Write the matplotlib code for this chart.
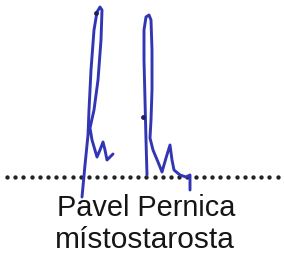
import matplotlib
matplotlib.use('Agg')
import matplotlib.pyplot as plt
import numpy as np

# Signature strokes (pixel coordinates, y grows downward)
stroke1_x = [82, 85, 88, 89, 91, 94, 97, 100, 102, 101, 98, 94, 90, 92, 97, 100, 103, 105, 107, 110, 113]
stroke1_y = [197, 165, 135, 110, 70, 30, 12, 7, 10, 40, 80, 110, 128, 140, 157, 150, 142, 150, 160, 157, 154]

stroke2_x = [147, 146, 145, 144, 144, 146, 149, 151, 152, 152, 151, 150, 153, 158, 162, 166, 170, 172, 174, 180, 186, 190, 190]
stroke2_y = [175, 140, 100, 60, 30, 17, 15, 20, 50, 90, 120, 138, 150, 162, 172, 158, 145, 160, 170, 175, 177, 175, 190]

# small pen marks
marks_x = [96, 143]
marks_y = [13, 117]

# dotted signature line
dots_x = np.arange(7, 284, 8.2)
line_y = 176.5

name = 'Pavel Pernica'
title = 'místostarosta'

ink = '#3236b4'

fig = plt.figure(figsize=(2.84, 2.54), dpi=100)
ax = fig.add_axes([0, 0, 1, 1])
ax.set_xlim(0, 284)
ax.set_ylim(254, 0)
ax.axis('off')

ax.scatter(dots_x, [line_y] * len(dots_x), s=4.5, color='#222222', zorder=1)

ax.plot(stroke1_x, stroke1_y, color=ink, lw=2.1, solid_capstyle='round', solid_joinstyle='round', zorder=2)
ax.plot(stroke2_x, stroke2_y, color=ink, lw=2.1, solid_capstyle='round', solid_joinstyle='round', zorder=2)
ax.scatter(marks_x, marks_y, s=6, color='#1e2060', zorder=3)

ax.text(146, 216, name, ha='center', va='baseline', fontsize=20.8,
        family='Liberation Sans', color='#151515')
ax.text(145, 248, title, ha='center', va='baseline', fontsize=21.5,
        family='Liberation Sans', color='#151515')

fig.savefig('out.png', dpi=100, facecolor='white')
